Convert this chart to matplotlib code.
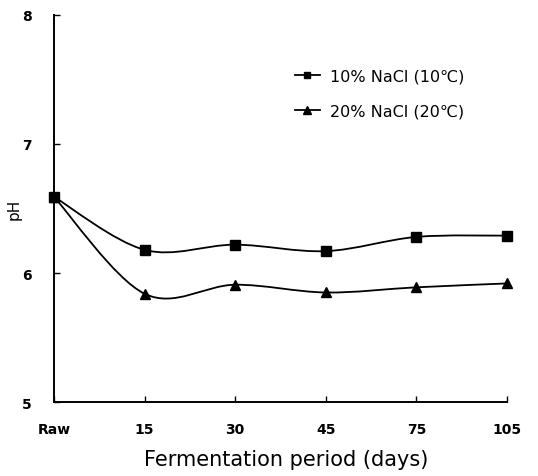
import matplotlib
matplotlib.use('Agg')
import matplotlib.pyplot as plt
from matplotlib.path import Path
from matplotlib.patches import PathPatch
from matplotlib.lines import Line2D
import numpy as np

plt.rcParams['font.family'] = ['DejaVu Sans']

# data
days = ['Raw', '15', '30', '45', '75', '105']
ph_10 = [6.59, 6.18, 6.22, 6.17, 6.28, 6.29]
ph_20 = [6.59, 5.84, 5.91, 5.85, 5.89, 5.92]
labels = ['10% NaCl (10\u2103)', '20% NaCl (20\u2103)']


def smooth_path(xs, ys):
    # Excel-like smoothed line: cubic bezier through the points (Catmull-Rom tangents)
    pts = np.column_stack([xs, ys]).astype(float)
    verts = [pts[0]]
    codes = [Path.MOVETO]
    n = len(pts)
    for i in range(n - 1):
        p0 = pts[i - 1] if i > 0 else pts[i]
        p1 = pts[i]
        p2 = pts[i + 1]
        p3 = pts[i + 2] if i + 2 < n else pts[i + 1]
        c1 = p1 + (p2 - p0) / 6.0
        c2 = p2 - (p3 - p1) / 6.0
        verts += [c1, c2, p2]
        codes += [Path.CURVE4] * 3
    return Path(verts, codes)


fig = plt.figure(figsize=(5.38, 4.77), dpi=100)
ax = fig.add_axes([0.1004, 0.1545, 0.842, 0.8126])

x = np.arange(len(days))
for ys, marker in [(ph_10, 's'), (ph_20, '^')]:
    ax.add_patch(PathPatch(smooth_path(x, ys), facecolor='none',
                           edgecolor='black', lw=1.3, clip_on=False))
    ax.plot(x, ys, linestyle='none', marker=marker, ms=7, color='black',
            clip_on=False, zorder=3)

ax.set_xlim(0, 5)
ax.set_ylim(5, 8)
ax.set_xticks(x)
ax.set_xticklabels(days)
ax.set_yticks([5, 6, 7, 8])
ax.tick_params(axis='x', direction='in', length=4, width=1, pad=14,
               labelsize=10)
ax.tick_params(axis='y', direction='in', length=4, width=1, pad=16,
               labelsize=10)
for lab in ax.get_xticklabels() + ax.get_yticklabels():
    lab.set_fontweight('bold')

for s in ['top', 'right']:
    ax.spines[s].set_visible(False)
for s in ['left', 'bottom']:
    ax.spines[s].set_linewidth(1.4)

ax.set_ylabel('pH', fontsize=11)
ax.yaxis.set_label_coords(-0.072, 0.5)
ax.set_xlabel('Fermentation period (days)', fontsize=15)
ax.xaxis.set_label_coords(0.513, -0.12)

handles = [Line2D([], [], color='black', lw=1.3, marker='s', ms=5),
           Line2D([], [], color='black', lw=1.3, marker='^', ms=5.5)]
ax.legend(handles, labels, loc='upper left', bbox_to_anchor=(0.532, 0.860),
          frameon=False, fontsize=11.5, handlelength=1.56, handletextpad=0.62,
          labelspacing=1.25, borderaxespad=0, borderpad=0)

fig.savefig('out.png', dpi=100)
